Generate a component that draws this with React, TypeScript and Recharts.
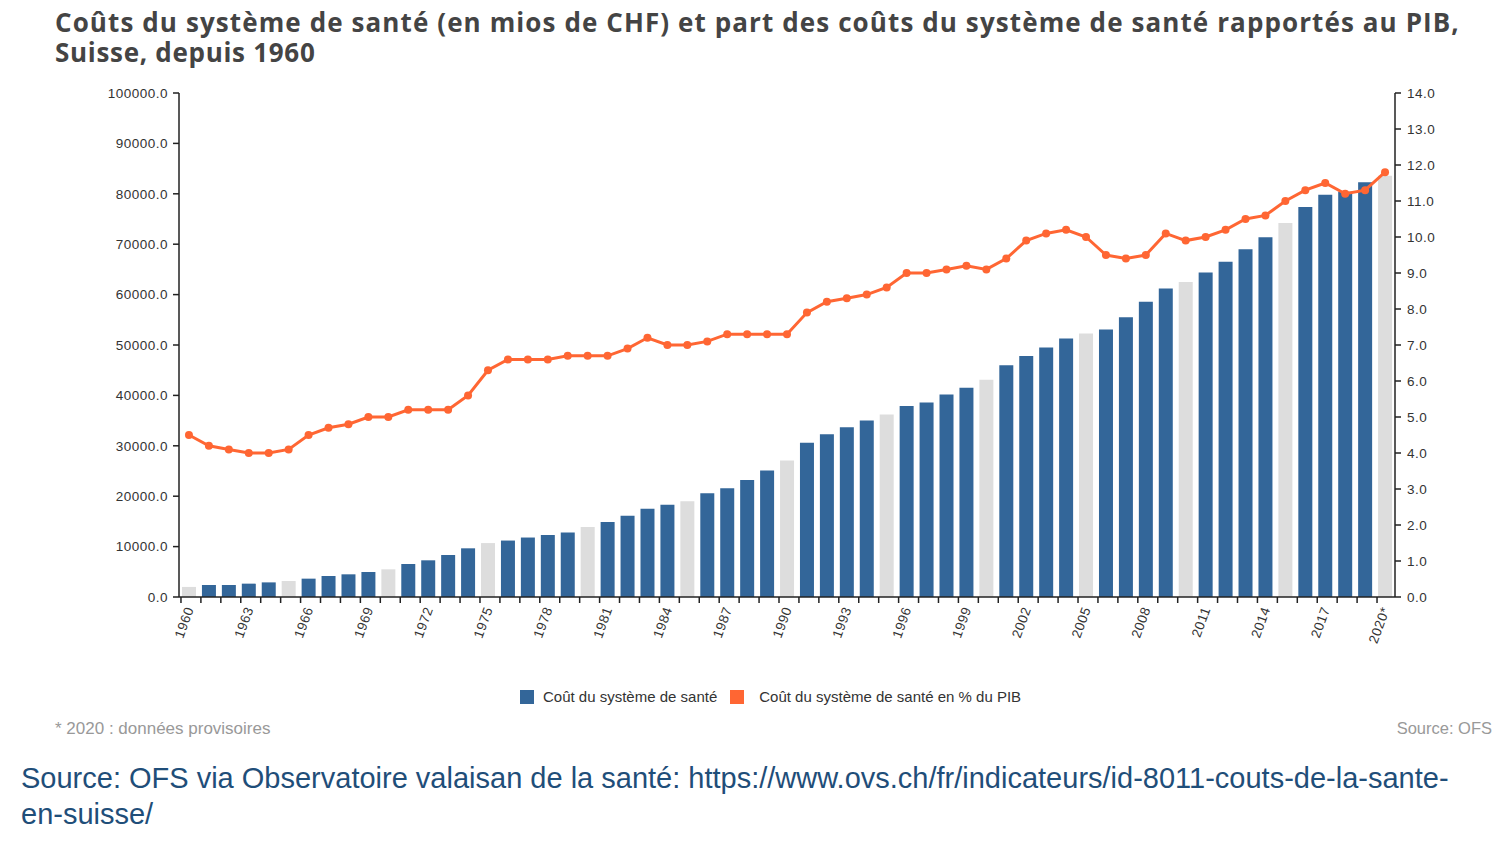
import React from 'react';
import { ComposedChart, Bar, Line, XAxis, YAxis, Cell } from 'recharts';

// years shown on the category axis (2020 = provisional data)
const years = [
  '1960', '1961', '1962', '1963', '1964', '1965', '1966', '1967', '1968', '1969',
  '1970', '1971', '1972', '1973', '1974', '1975', '1976', '1977', '1978', '1979',
  '1980', '1981', '1982', '1983', '1984', '1985', '1986', '1987', '1988', '1989',
  '1990', '1991', '1992', '1993', '1994', '1995', '1996', '1997', '1998', '1999',
  '2000', '2001', '2002', '2003', '2004', '2005', '2006', '2007', '2008', '2009',
  '2010', '2011', '2012', '2013', '2014', '2015', '2016', '2017', '2018', '2019',
  '2020*',
];

// health system costs, in millions of CHF
const costs = [
  2000, 2380, 2380, 2650, 2900, 3170, 3640, 4170, 4500, 4960,
  5490, 6550, 7280, 8330, 9660, 10700, 11200, 11800, 12300, 12800,
  13900, 14900, 16100, 17500, 18300, 19000, 20600, 21600, 23200, 25100,
  27100, 30600, 32300, 33700, 35000, 36200, 37900, 38600, 40200, 41500,
  43100, 46000, 47800, 49500, 51300, 52300, 53100, 55500, 58600, 61200,
  62500, 64400, 66500, 69000, 71400, 74200, 77400, 79800, 80400, 82300,
  83600,
];

// health system costs as % of GDP
const gdpShare = [
  4.5, 4.2, 4.1, 4.0, 4.0, 4.1, 4.5, 4.7, 4.8, 5.0,
  5.0, 5.2, 5.2, 5.2, 5.6, 6.3, 6.6, 6.6, 6.6, 6.7,
  6.7, 6.7, 6.9, 7.2, 7.0, 7.0, 7.1, 7.3, 7.3, 7.3,
  7.3, 7.9, 8.2, 8.3, 8.4, 8.6, 9.0, 9.0, 9.1, 9.2,
  9.1, 9.4, 9.9, 10.1, 10.2, 10.0, 9.5, 9.4, 9.5, 10.1,
  9.9, 10.0, 10.2, 10.5, 10.6, 11.0, 11.3, 11.5, 11.2, 11.3,
  11.8,
];

// bars drawn in light grey
const greyYears = ['1960', '1965', '1970', '1975', '1980', '1985', '1990', '1995', '2000', '2005', '2010', '2015', '2020*'];

// labels written under the axis
const tickLabels = [
  '1960', '1963', '1966', '1969', '1972', '1975', '1978', '1981', '1984', '1987', '1990',
  '1993', '1996', '1999', '2002', '2005', '2008', '2011', '2014', '2017', '2020*',
];

const leftTicks = [0, 10000, 20000, 30000, 40000, 50000, 60000, 70000, 80000, 90000, 100000];
const rightTicks = [0, 1, 2, 3, 4, 5, 6, 7, 8, 9, 10, 11, 12, 13, 14];

const BLUE = '#336699';
const GREY = '#dddddd';
const ORANGE = '#ff6633';
const AXIS = '#222';
const SANS = '"Liberation Sans", Arial, sans-serif';

const data = years.map((year, i) => ({ year, cost: costs[i], share: gdpShare[i] }));

const tickStyle = { fontFamily: SANS, fontSize: 13.5, letterSpacing: 0.5, fill: '#333' };

const YearTick = (props: any) => {
  const { x, y, payload } = props;
  const show = tickLabels.includes(payload.value);
  const tx = x + 5;
  const ty = y + 12;
  return (
    <g>
      <line x1={x - 8} x2={x - 8} y1={y} y2={y + 6} stroke={AXIS} strokeWidth={1.5} />
      {show && (
        <text
          x={tx}
          y={ty}
          transform={`rotate(-70 ${tx} ${ty})`}
          textAnchor="end"
          style={tickStyle}
        >
          {payload.value}
        </text>
      )}
    </g>
  );
};

const titleLine = {
  position: 'absolute' as const,
  left: 55,
  fontFamily: '"Open Sans", sans-serif',
  fontWeight: 700,
  fontSize: 26,
  letterSpacing: 1.1,
  lineHeight: '28px',
  height: 28,
  color: '#444',
  whiteSpace: 'nowrap' as const,
};

export default function App() {
  return (
    <div
      style={{
        position: 'relative',
        width: 1500,
        height: 844,
        margin: '-8px 0 0 -8px',
        background: '#fff',
        overflow: 'hidden',
      }}
    >
      <div style={{ ...titleLine, top: 8 }}>
        Coûts du système de santé (en mios de CHF) et part des coûts du système de santé rapportés au PIB,
      </div>
      <div style={{ ...titleLine, top: 38, letterSpacing: 0.7 }}>Suisse, depuis 1960</div>

      <div style={{ position: 'absolute', left: 0, top: 0 }}>
        <ComposedChart
          width={1500}
          height={700}
          data={data}
          margin={{ top: 93, right: 45, bottom: 43, left: 89 }}
        >
          <XAxis
            dataKey="year"
            interval={0}
            height={60}
            tickSize={0}
            tickMargin={0}
            tickLine={false}
            axisLine={{ stroke: AXIS, strokeWidth: 1.5 }}
            tick={<YearTick />}
          />
          <YAxis
            yAxisId="left"
            domain={[0, 100000]}
            ticks={leftTicks}
            width={90}
            tickSize={6}
            tickMargin={5}
            tickFormatter={(v: number) => v.toFixed(1)}
            tick={tickStyle}
            axisLine={{ stroke: AXIS, strokeWidth: 1.5 }}
            tickLine={{ stroke: AXIS, strokeWidth: 1.5 }}
          />
          <YAxis
            yAxisId="right"
            orientation="right"
            domain={[0, 14]}
            ticks={rightTicks}
            width={60}
            tickSize={6}
            tickMargin={6}
            tickFormatter={(v: number) => v.toFixed(1)}
            tick={{ ...tickStyle, textAnchor: 'start' }}
            axisLine={{ stroke: AXIS, strokeWidth: 1.5 }}
            tickLine={{ stroke: AXIS, strokeWidth: 1.5 }}
          />
          <Bar yAxisId="left" dataKey="cost" barSize={14} isAnimationActive={false}>
            {data.map((d, i) => (
              <Cell key={`cell-${i}`} fill={greyYears.includes(d.year) ? GREY : BLUE} />
            ))}
          </Bar>
          <Line
            yAxisId="right"
            dataKey="share"
            type="linear"
            stroke={ORANGE}
            strokeWidth={3}
            dot={{ r: 4, fill: ORANGE, stroke: ORANGE, strokeWidth: 0 }}
            activeDot={false}
            isAnimationActive={false}
          />
        </ComposedChart>
      </div>

      {/* legend */}
      <div
        style={{
          position: 'absolute',
          left: 520,
          top: 688,
          display: 'flex',
          alignItems: 'center',
          fontFamily: SANS,
          fontSize: 15,
          color: '#333',
          whiteSpace: 'nowrap',
        }}
      >
        <span style={{ width: 14, height: 14, background: BLUE, display: 'inline-block' }} />
        <span style={{ marginLeft: 9 }}>Coût du système de santé</span>
        <span style={{ width: 14, height: 14, background: ORANGE, display: 'inline-block', marginLeft: 13 }} />
        <span style={{ marginLeft: 15 }}>Coût du système de santé en % du PIB</span>
      </div>

      <div
        style={{
          position: 'absolute',
          left: 55,
          top: 719,
          fontFamily: SANS,
          fontSize: 17,
          color: '#999',
          whiteSpace: 'nowrap',
        }}
      >
        * 2020 : données provisoires
      </div>
      <div
        style={{
          position: 'absolute',
          right: 8,
          top: 719,
          fontFamily: SANS,
          fontSize: 16.5,
          color: '#999',
          whiteSpace: 'nowrap',
        }}
      >
        Source: OFS
      </div>

      <div
        style={{
          position: 'absolute',
          left: 21,
          top: 760,
          fontFamily: SANS,
          fontSize: 29,
          lineHeight: '36px',
          color: '#1f4e79',
          whiteSpace: 'nowrap',
        }}
      >
        <div>Source: OFS via Observatoire valaisan de la santé: https://www.ovs.ch/fr/indicateurs/id-8011-couts-de-la-sante-</div>
        <div>en-suisse/</div>
      </div>
    </div>
  );
}
